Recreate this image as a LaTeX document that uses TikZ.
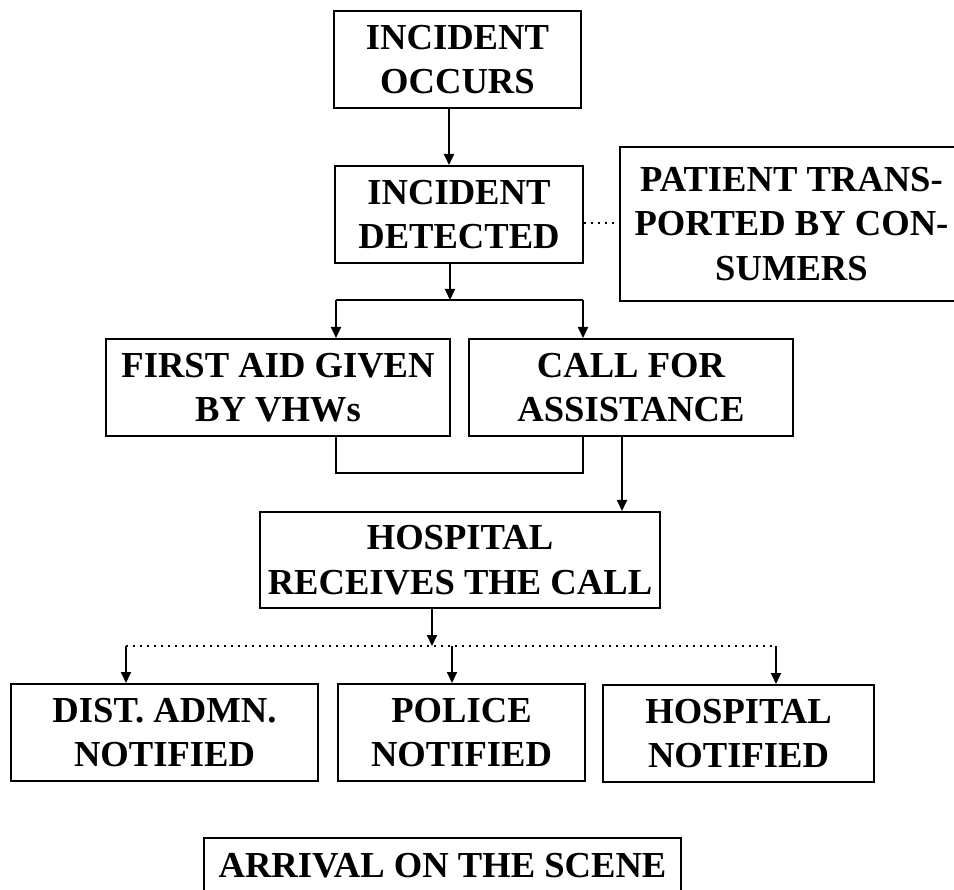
\documentclass[tikz,border=0pt]{standalone}
\usepackage{fontspec}
\setmainfont{Liberation Serif}
\usetikzlibrary{arrows.meta}
\begin{document}
\begin{tikzpicture}[x=1pt,y=-1pt,
  box/.style={draw, line width=2pt, inner sep=0pt, align=center,
    font=\bfseries\fontsize{36.6}{44.5}\selectfont},
  conn/.style={line width=1.8pt},
  arr/.style={conn, -{Triangle[length=11pt,width=10pt]}},
  dotline/.style={line width=2pt, dash pattern=on 2pt off 5pt}]
\useasboundingbox (0,0) rectangle (954,890);
\fill[white] (0,0) rectangle (954,890);
% boxes
\node[box, minimum width=247pt, minimum height=97pt] (b1) at (457.5,59.5) {INCIDENT\\OCCURS};
\node[box, minimum width=248pt, minimum height=97pt] (b2) at (459,214.5) {INCIDENT\\DETECTED};
\node[box, minimum width=343pt, minimum height=154pt] (b3) at (791.5,224) {PATIENT TRANS-\\PORTED BY CON-\\SUMERS};
\node[box, minimum width=344pt, minimum height=97pt] (b4) at (278,387.5) {FIRST AID GIVEN\\BY VHWs};
\node[box, minimum width=324pt, minimum height=97pt] (b5) at (631,387.5) {CALL FOR\\ASSISTANCE};
\node[box, minimum width=400pt, minimum height=96pt] (b6) at (460,560) {HOSPITAL\\RECEIVES THE CALL};
\node[box, minimum width=307pt, minimum height=97pt] (b7) at (164.5,732.5) {DIST. ADMN.\\NOTIFIED};
\node[box, minimum width=247pt, minimum height=97pt] (b8) at (461.5,732.5) {POLICE\\NOTIFIED};
\node[box, minimum width=271pt, minimum height=97pt] (b9) at (738.5,733.5) {HOSPITAL\\NOTIFIED};
\node[box, minimum width=477pt, minimum height=56pt] (b10) at (442.5,866) {ARRIVAL ON THE SCENE};
% helper coordinates
\coordinate (x1) at (449,0);
\coordinate (j1) at (450,300);
\coordinate (sl) at (336,300);
\coordinate (sr) at (583,300);
\coordinate (ul) at (336,473);
\coordinate (ur) at (583,473);
\coordinate (x2) at (622,0);
\coordinate (j2) at (432,646);
\coordinate (dl) at (126,646);
\coordinate (dm) at (452,646);
\coordinate (dr) at (776,646);
\coordinate (y1) at (0,223);
% connectors
\draw[arr] (b1.south -| x1) -- (b2.north -| x1);
\draw[dotline] (b2.east |- y1) -- (b3.west |- y1);
\draw[arr] (b2.south -| j1) -- (j1);
\draw[conn] (sl) -- (sr);
\draw[arr] (sl) -- (b4.north -| sl);
\draw[arr] (sr) -- (b5.north -| sr);
\draw[conn] (b4.south -| ul) -- (ul) -- (ur) -- (b5.south -| ur);
\draw[arr] (b5.south -| x2) -- (b6.north -| x2);
\draw[arr] (b6.south -| j2) -- (j2);
\draw[dotline] (dl) -- (dr);
\draw[arr] (dl) -- (b7.north -| dl);
\draw[arr] (dm) -- (b8.north -| dm);
\draw[arr] (dr) -- (b9.north -| dr);
\end{tikzpicture}
\end{document}
